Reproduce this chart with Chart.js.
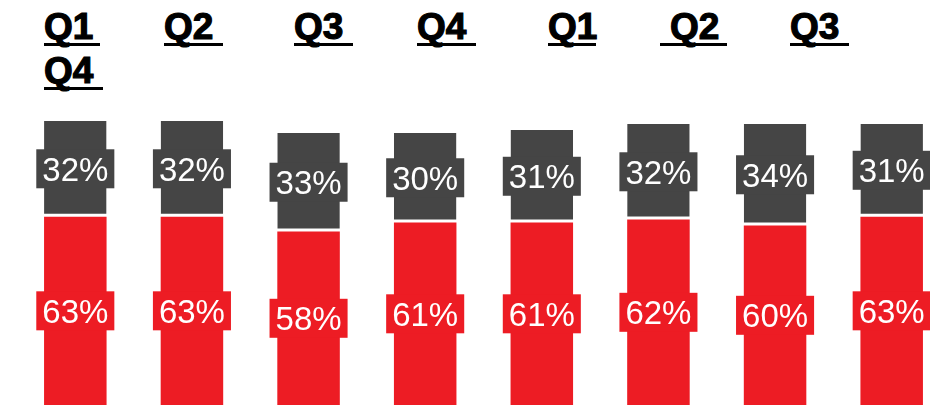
<!DOCTYPE html>
<html>
<head>
<meta charset="utf-8">
<script src="https://cdn.jsdelivr.net/npm/chart.js@4/dist/chart.umd.min.js"></script>
<style>
  html, body { margin: 0; padding: 0; background: #fff; overflow: hidden; width: 930px; height: 405px; }
  #header { position: absolute; left: 0; top: 0; width: 930px; height: 106px;
    font-family: "Liberation Sans", Arial, sans-serif; font-weight: bold; font-size: 37px; color: #000;
    -webkit-text-stroke: 1.2px #000; }
  .q { position: absolute; line-height: 32px; border-bottom: 3px solid #000; white-space: pre; box-sizing: border-box; }
  #wrap { position: absolute; left: 0; top: 106px; width: 950px; height: 299px; }
</style>
</head>
<body>
<div id="header"></div>
<div id="wrap"><canvas id="chart"></canvas></div>
<script>
// data
const quarters = ["Q1", "Q2", "Q3", "Q4", "Q1", "Q2", "Q3", "Q4"];
const redShare = [63, 63, 58, 61, 61, 62, 60, 63];
const greyShare = [32, 32, 33, 30, 31, 32, 34, 31];

const RED = "#ed1c24";
const GREY = "#454545";

// header: quarter labels, last one wraps onto a second line
const headerSlots = [
  { left: 44, top: 11, width: 56, pad: 0 },
  { left: 164, top: 11, width: 59, pad: 0 },
  { left: 294, top: 11, width: 59, pad: 0 },
  { left: 417, top: 11, width: 59, pad: 0 },
  { left: 548, top: 11, width: 48, pad: 0 },
  { left: 660, top: 11, width: 67, pad: 10 },
  { left: 790, top: 11, width: 59, pad: 0 },
  { left: 44, top: 55, width: 59, pad: 0 }
];

const header = document.getElementById("header");
quarters.forEach((q, i) => {
  const s = headerSlots[i];
  const span = document.createElement("span");
  span.className = "q";
  span.textContent = q;
  span.style.left = s.left + "px";
  span.style.top = s.top + "px";
  span.style.width = s.width + "px";
  span.style.paddingLeft = s.pad + "px";
  header.appendChild(span);
});

// value labels with a box in the bar colour
const boxLabels = {
  id: "boxLabels",
  afterDatasetsDraw(chart) {
    const ctx = chart.ctx;
    const size = 33;
    ctx.save();
    ctx.font = `${size}px "Liberation Sans", Arial, sans-serif`;
    ctx.textAlign = "center";
    ctx.textBaseline = "alphabetic";
    chart.data.datasets.forEach((ds, di) => {
      const meta = chart.getDatasetMeta(di);
      meta.data.forEach((bar, i) => {
        const { x, y, base } = bar.getProps(["x", "y", "base"], true);
        const cy = (y + base) / 2;
        const text = ds.data[i] + "%";
        const w = ctx.measureText(text).width + 12;
        const h = 39;
        ctx.fillStyle = ds.backgroundColor;
        ctx.fillRect(x - w / 2, cy - h / 2, w, h);
        ctx.fillStyle = "#ffffff";
        ctx.fillText(text, x, cy + size * 0.716 / 2);
      });
    });
    ctx.restore();
  }
};

new Chart(document.getElementById("chart"), {
  type: "bar",
  data: {
    labels: quarters,
    datasets: [
      {
        label: "red",
        data: redShare,
        backgroundColor: RED,
        borderWidth: 0
      },
      {
        label: "grey",
        data: greyShare,
        backgroundColor: GREY,
        borderColor: "#ffffff",
        borderWidth: { top: 0, right: 0, bottom: 3, left: 0 },
        borderSkipped: false
      }
    ]
  },
  options: {
    responsive: true,
    maintainAspectRatio: false,
    animation: false,
    layout: { padding: { left: 17, right: 0, top: 0, bottom: 0 } },
    datasets: { bar: { categoryPercentage: 1, barPercentage: 0.536 } },
    plugins: { legend: { display: false }, tooltip: { enabled: false } },
    scales: {
      x: { stacked: true, display: false },
      y: { stacked: true, display: false, min: 0, max: 100 }
    }
  },
  plugins: [boxLabels]
});
</script>
</body>
</html>
